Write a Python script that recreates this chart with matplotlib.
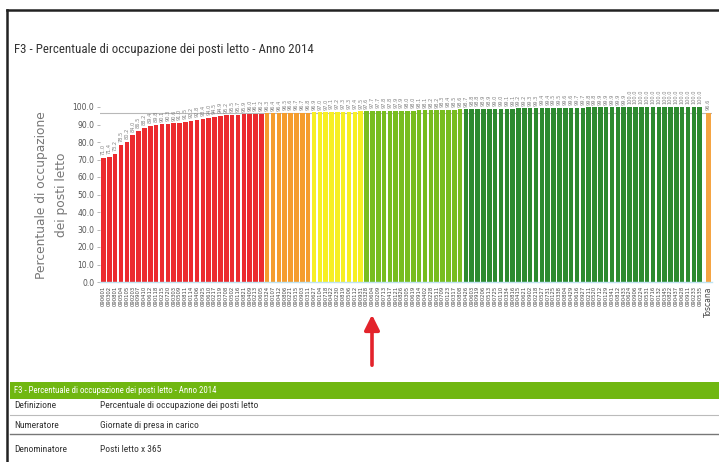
"""F3 - Percentuale di occupazione dei posti letto, Anno 2014 (report page crop)."""

import matplotlib
matplotlib.use("Agg")
import matplotlib.pyplot as plt
from matplotlib import font_manager
from matplotlib.patches import Rectangle
from matplotlib.lines import Line2D

W, H = 719, 462

# --- data ------------------------------------------------------------------
RED = [71.0, 71.4, 73.2, 78.5, 80.2, 84.0, 86.5, 88.2, 89.4, 89.8, 90.1, 90.3,
       90.6, 91.0, 91.5, 92.2, 92.8, 93.4, 94.0, 94.5, 94.9, 95.2, 95.5, 95.7,
       95.9, 96.0, 96.1, 96.2]
ORANGE = [96.3, 96.4, 96.4, 96.5, 96.6, 96.7, 96.7, 96.8]
YELLOW = [96.9, 97.0, 97.0, 97.1, 97.2, 97.3, 97.3, 97.4, 97.5]
LIGHT_GREEN = [97.6, 97.7, 97.7, 97.8, 97.8, 97.9, 97.9, 98.0, 98.0, 98.1,
               98.1, 98.2, 98.2, 98.3, 98.4, 98.5, 98.6]
DARK_GREEN = [98.7, 98.8, 98.8, 98.9, 98.9, 99.0, 99.0, 99.1, 99.1, 99.2,
              99.2, 99.3, 99.3, 99.4, 99.4, 99.5, 99.5, 99.6, 99.6, 99.7,
              99.7, 99.8, 99.8, 99.9, 99.9, 99.9, 99.9, 99.9,
              100.0, 100.0, 100.0, 100.0, 100.0, 100.0, 100.0, 100.0, 100.0,
              100.0, 100.0, 100.0, 100.0]
TOSCANA = 96.6

CODES = """
090601 090302 090801 090504 090105 090203 090907 090410 090612 090118
090215 090720 090303 090509 090811 090114 090406 090925 090610 090217
090319 090708 090502 090116 090821 090409 090213 090605 090324 090107
090412 090806 090221 090515 090903 090311 090627 090104 090718 090422
090230 090819 090506 090112 090931 090328 090604 090209 090713 090417
090121 090826 090305 090619 090914 090402 090228 090511 090709 090123
090317 090808 090426 090603 090919 090206 090513 090725 090110 090334
090816 090415 090621 090902 090218 090527 090731 090125 090338 090804
090429 090616 090927 090211 090520 090712 090129 090341 090812 090433
090624 090906 090224 090531 090716 090132 090345 090822 090437 090628
090911 090233 090535
""".split()

TABLE_HEADER = "F3 - Percentuale di occupazione dei posti letto - Anno 2014"
TABLE_ROWS = [
    ("Definizione", "Percentuale di occupazione dei posti letto"),
    ("Numeratore", "Giornate di presa in carico"),
    ("Denominatore", "Posti letto x 365"),
]

GROUP_COLORS = ["#ec2b2f", "#f59d2e", "#f7ef24", "#78bd1f", "#2c8a2f"]
TOSCANA_COLOR = "#f5a443"


def pick_narrow_font():
    names = {f.name for f in font_manager.fontManager.ttflist}
    for name in ("Liberation Sans Narrow", "Roboto Condensed", "Open Sans Condensed"):
        if name in names:
            return name
    return "DejaVu Sans"


NARROW = pick_narrow_font()


def fx(x):
    return x / W


def fy(y):
    return 1 - y / H


fig = plt.figure(figsize=(W / 100, H / 100), dpi=100)
fig.patch.set_facecolor("white")

# page frame (top and left border of the screenshot)
fig.add_artist(Line2D([fx(7), fx(7)], [fy(10), fy(H)], color="#222222", lw=1.8))
fig.add_artist(Line2D([fx(7), fx(W)], [fy(10), fy(10)], color="#222222", lw=1.8))

fig.text(fx(14), fy(50), TABLE_HEADER, family=NARROW, fontsize=9.3,
         color="#333333", va="center", ha="left")

# --- bar chart ---------------------------------------------------------------
y_top = 122
ax_left, ax_right, ax_bottom = 100, 712, 282
ax_top = ax_bottom - 1.75 * y_top
ax = fig.add_axes([fx(ax_left), fy(ax_bottom), fx(ax_right) - fx(ax_left),
                   fy(ax_top) - fy(ax_bottom)])

groups = [RED, ORANGE, YELLOW, LIGHT_GREEN, DARK_GREEN]
values, colors = [], []
for vals, col in zip(groups, GROUP_COLORS):
    values += vals
    colors += [col] * len(vals)

xs = list(range(len(values)))
x_tosc = len(values) + 0.5
ax.axhline(TOSCANA, color="#b8b8b8", lw=0.8, zorder=0)
ax.bar(xs, values, width=0.78, color=colors, edgecolor="none", zorder=2)
ax.bar([x_tosc], [TOSCANA], width=0.78, color=TOSCANA_COLOR, zorder=2)

for x, v in zip(xs + [x_tosc], values + [TOSCANA]):
    ax.text(x, v + 1.5, f"{v:.1f}", rotation=90, fontsize=3.6, color="#808080",
            ha="center", va="bottom")

ax.set_xlim(-0.6, x_tosc + 0.6)
ax.set_ylim(0, y_top)
ax.set_yticks(range(0, 101, 10))
ax.set_yticklabels([f"{t:.1f}" for t in range(0, 101, 10)], fontsize=5.5,
                   color="#555555")
ax.tick_params(axis="y", length=2, width=0.5, color="#999999", pad=2)
ax.set_xticks(xs + [x_tosc])
ax.set_xticklabels(CODES + ["Toscana"], rotation=90, fontsize=3.8,
                   color="#444444")
ax.tick_params(axis="x", length=0, pad=3)
for lbl in ax.get_xticklabels()[-1:]:
    lbl.set_fontsize(5.5)
for side in ("top", "right", "left"):
    ax.spines[side].set_visible(False)
ax.spines["bottom"].set_color("#bfe3f0")
ax.spines["bottom"].set_linewidth(1.0)
ax.set_facecolor("white")

fig.text(fx(52), fy(195), "Percentuale di occupazione\ndei posti letto",
         rotation=90, fontsize=8.8, color="#777777", ha="center", va="center",
         linespacing=1.7)

# red arrow pointing to a bar
ax_arrow = fig.add_axes([0, 0, 1, 1], facecolor="none")
ax_arrow.set_axis_off()
ax_arrow.set_xlim(0, W)
ax_arrow.set_ylim(H, 0)
ax_arrow.annotate("", xy=(372, 312), xytext=(372, 368),
                  arrowprops=dict(arrowstyle="-|>,head_width=0.45,head_length=0.9",
                                  color="#e3232b", lw=2.6))

# --- definition table --------------------------------------------------------
ax_arrow.add_patch(Rectangle((10, 382), W - 10, 17, color="#70b711", lw=0))
ax_arrow.text(14, 390.5, TABLE_HEADER, family=NARROW, fontsize=6.3,
              color="white", va="center")
row_y = [406, 425, 450]
for (name, desc), y in zip(TABLE_ROWS, row_y):
    ax_arrow.text(14, y, name, family=NARROW, fontsize=6.8, color="#333333",
                  va="center")
    ax_arrow.text(100, y, desc, family=NARROW, fontsize=6.8, color="#333333",
                  va="center")
ax_arrow.plot([10, W], [415, 415], color="#bbbbbb", lw=0.8)
ax_arrow.plot([10, W], [434, 434], color="#777777", lw=1.0)

fig.savefig("out.png", dpi=100)
